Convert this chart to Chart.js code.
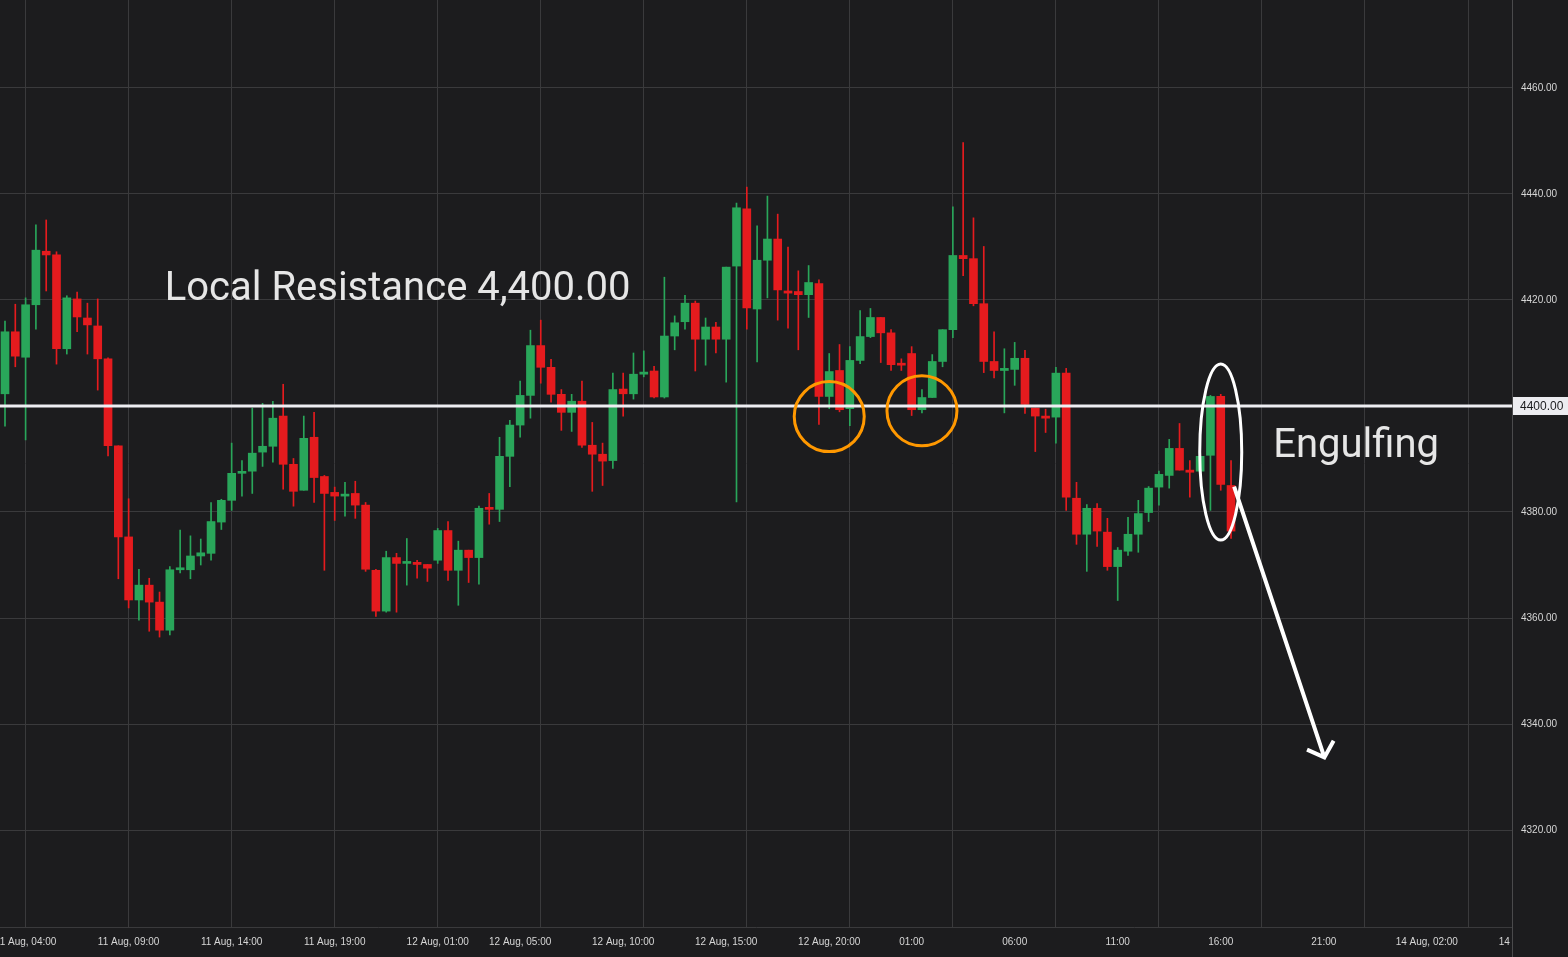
<!DOCTYPE html>
<html>
<head>
<meta charset="utf-8">
<script src="https://cdn.jsdelivr.net/npm/chart.js@4.4.1/dist/chart.umd.min.js"></script>
<style>
  html, body { margin: 0; padding: 0; background: #1c1c1e; overflow: hidden; }
  #wrap { width: 1568px; height: 957px; }
</style>
</head>
<body>
<div id="wrap"><canvas id="priceChart"></canvas></div>
<script>
// 30 min candles
const open = [
  4402.3, 4414.0, 4409.2, 4419.1, 4429.2, 4428.5, 4410.8, 4420.2, 4416.6, 4415.1,
  4408.9, 4392.5, 4375.3, 4363.4, 4366.2, 4363.0, 4357.7, 4369.1, 4369.1, 4371.7,
  4372.2, 4378.1, 4382.2, 4387.3, 4387.7, 4391.3, 4392.4, 4398.1, 4389.0, 4384.1,
  4394.1, 4386.7, 4383.7, 4383.0, 4383.5, 4381.3, 4369.0, 4361.3, 4371.4, 4370.3,
  4370.5, 4370.1, 4370.9, 4376.5, 4369.0, 4372.8, 4371.4, 4380.7, 4380.5, 4390.5,
  4396.4, 4402.0, 4411.4, 4407.3, 4402.2, 4398.8, 4400.9, 4392.6, 4390.9, 4389.7,
  4403.2, 4402.3, 4406.0, 4406.6, 4401.7, 4413.2, 4415.9, 4419.4, 4412.6, 4414.9,
  4412.6, 4426.4, 4437.2, 4418.3, 4427.5, 4431.5, 4421.7, 4421.6, 4421.0, 4423.1,
  4401.8, 4406.7, 4399.5, 4408.6, 4413.1, 4416.7, 4413.8, 4407.9, 4409.9, 4399.3,
  4401.6, 4408.4, 4414.4, 4428.4, 4427.8, 4419.3, 4408.4, 4406.7, 4406.9, 4409.0,
  4399.6, 4398.1, 4397.9, 4406.2, 4382.6, 4375.8, 4380.7, 4376.2, 4369.7, 4372.6,
  4375.8, 4379.9, 4384.7, 4386.9, 4392.0, 4387.9, 4387.7, 4390.7, 4401.8, 4385.0
];
const high = [
  4416.0, 4419.2, 4420.4, 4434.2, 4435.1, 4429.1, 4420.8, 4421.5, 4419.4, 4420.2,
  4409.1, 4392.5, 4382.5, 4369.2, 4367.5, 4364.9, 4369.7, 4376.6, 4375.5, 4374.9,
  4381.8, 4382.4, 4393.0, 4389.7, 4399.6, 4400.5, 4400.9, 4404.1, 4390.1, 4398.1,
  4398.8, 4386.9, 4384.7, 4385.6, 4385.8, 4381.8, 4369.2, 4372.6, 4372.2, 4375.0,
  4370.9, 4370.1, 4376.9, 4378.2, 4374.5, 4372.8, 4381.1, 4383.5, 4394.1, 4397.3,
  4404.7, 4414.3, 4416.2, 4408.8, 4403.1, 4402.2, 4404.7, 4396.9, 4393.0, 4406.2,
  4406.2, 4410.0, 4410.4, 4407.5, 4424.3, 4417.0, 4420.9, 4419.8, 4416.6, 4415.8,
  4426.2, 4438.3, 4441.3, 4434.0, 4439.6, 4436.2, 4430.0, 4425.5, 4426.5, 4423.8,
  4409.9, 4411.6, 4411.2, 4418.0, 4418.4, 4416.7, 4414.4, 4408.9, 4411.2, 4403.1,
  4409.7, 4414.4, 4437.6, 4449.7, 4435.5, 4430.1, 4414.0, 4410.8, 4412.0, 4410.5,
  4399.6, 4399.4, 4407.3, 4407.1, 4385.6, 4381.4, 4381.6, 4378.8, 4373.3, 4379.0,
  4382.2, 4384.8, 4387.7, 4393.7, 4396.7, 4389.7, 4391.0, 4402.0, 4402.2, 4389.7
];
const low = [
  4396.2, 4407.4, 4393.6, 4414.5, 4421.7, 4407.9, 4409.8, 4414.0, 4409.8, 4403.0,
  4390.6, 4367.4, 4361.9, 4359.6, 4357.5, 4356.4, 4356.8, 4368.5, 4367.4, 4370.0,
  4370.9, 4376.7, 4380.3, 4383.0, 4383.5, 4388.6, 4389.4, 4384.3, 4381.1, 4384.1,
  4381.8, 4369.0, 4378.4, 4379.2, 4378.8, 4368.8, 4360.3, 4361.1, 4361.1, 4366.2,
  4367.5, 4366.9, 4370.3, 4367.1, 4362.4, 4366.7, 4366.4, 4377.7, 4378.2, 4384.8,
  4394.1, 4397.7, 4404.3, 4400.7, 4395.4, 4395.2, 4392.2, 4383.9, 4385.0, 4388.2,
  4398.1, 4401.3, 4405.5, 4401.5, 4401.5, 4410.6, 4414.5, 4406.6, 4407.7, 4410.0,
  4404.5, 4381.9, 4414.5, 4408.3, 4420.4, 4416.2, 4414.7, 4410.6, 4416.7, 4396.5,
  4399.5, 4398.9, 4396.3, 4408.0, 4412.9, 4408.2, 4406.7, 4406.7, 4398.2, 4398.7,
  4401.6, 4407.4, 4412.9, 4424.6, 4418.9, 4406.3, 4405.3, 4398.7, 4403.9, 4398.6,
  4391.4, 4395.0, 4393.0, 4380.3, 4373.9, 4368.8, 4373.5, 4369.0, 4363.3, 4371.8,
  4372.4, 4378.2, 4381.3, 4384.5, 4387.9, 4382.8, 4387.0, 4380.3, 4384.1, 4375.0
];
const close = [
  4414.0, 4409.4, 4419.1, 4429.4, 4428.5, 4410.8, 4420.4, 4416.8, 4415.3, 4408.9,
  4392.5, 4375.3, 4363.4, 4366.2, 4363.0, 4357.7, 4369.1, 4369.2, 4371.7, 4372.3,
  4378.2, 4382.2, 4387.3, 4387.5, 4391.1, 4392.4, 4397.7, 4389.0, 4383.9, 4393.9,
  4386.5, 4383.5, 4383.0, 4383.2, 4381.3, 4369.2, 4361.3, 4371.4, 4370.3, 4370.6,
  4370.1, 4369.4, 4376.5, 4369.0, 4372.8, 4371.4, 4380.7, 4380.5, 4390.5, 4396.4,
  4402.0, 4411.4, 4407.3, 4402.2, 4398.8, 4400.9, 4392.6, 4390.9, 4389.6, 4403.1,
  4402.3, 4406.0, 4406.4, 4401.7, 4413.2, 4415.7, 4419.4, 4412.6, 4414.9, 4412.6,
  4426.2, 4437.4, 4418.5, 4427.5, 4431.5, 4421.9, 4421.3, 4421.0, 4423.3, 4401.8,
  4406.5, 4399.3, 4408.6, 4413.1, 4416.7, 4413.8, 4407.8, 4407.7, 4399.3, 4401.6,
  4408.4, 4414.4, 4428.4, 4427.8, 4419.3, 4408.4, 4406.7, 4407.1, 4409.0, 4400.3,
  4398.1, 4397.7, 4406.2, 4382.8, 4375.8, 4380.7, 4376.4, 4369.7, 4372.8, 4375.8,
  4379.7, 4384.5, 4387.1, 4392.0, 4387.9, 4387.5, 4390.5, 4401.8, 4385.2, 4376.4
];

// x axis: vertical grid every 10 candles, time labels sit on their own candles
const gridPos = [2, 12, 22, 32, 42, 52, 62, 72, 82, 92, 102, 112, 122, 132, 142];
const labelPos = [2, 12, 22, 32, 42, 50, 60, 70, 80, 88, 98, 108, 118, 128, 138, 148];
const xTickLabels = [
  '11 Aug, 04:00', '11 Aug, 09:00', '11 Aug, 14:00', '11 Aug, 19:00', '12 Aug, 01:00',
  '12 Aug, 05:00', '12 Aug, 10:00', '12 Aug, 15:00', '12 Aug, 20:00', '01:00',
  '06:00', '11:00', '16:00', '21:00', '14 Aug, 02:00', '14 Aug, 07:00'
];
const yTicks = [4320, 4340, 4360, 4380, 4400, 4420, 4440, 4460];
const resistance = 4400;

const BG = '#1c1c1e';
const GRID = '#3a3a3c';
const UP = '#29a65a';
const DOWN = '#e51b1e';

const candleColors = close.map((c, i) => c >= open[i] ? UP : DOWN);
const bodies = open.map((o, i) => ({ x: i, y: [o, close[i]] }));
const wicks = low.map((l, i) => ({ x: i, y: [l, high[i]] }));

// annotation spots, in candle index / price
const circles = [{ x: 80, y: 4398.0 }, { x: 89, y: 4399.1 }];
const ellipse = { x: 118, y: 4391.3 };
const arrow = { from: { x: 119.3, y: 4384.8 }, to: { x: 128.06, y: 4333.7 } };
const notes = [
  { text: 'Local Resistance 4,400.00', x: 15.5, y: 4420.0 },
  { text: 'Engulfing', x: 123.1, y: 4390.4 }
];

const overlay = {
  id: 'overlay',
  afterDatasetsDraw(chart) {
    const { ctx, chartArea, scales: { x, y } } = chart;
    ctx.save();

    // resistance line
    const ry = y.getPixelForValue(resistance);
    ctx.strokeStyle = '#eeeef2';
    ctx.lineWidth = 3;
    ctx.beginPath();
    ctx.moveTo(chartArea.left, ry);
    ctx.lineTo(chartArea.right, ry);
    ctx.stroke();

    // orange circles at the retests
    ctx.strokeStyle = '#ff9800';
    ctx.lineWidth = 3;
    circles.forEach(c => {
      ctx.beginPath();
      ctx.arc(x.getPixelForValue(c.x), y.getPixelForValue(c.y), 35, 0, Math.PI * 2);
      ctx.stroke();
    });

    // engulfing ellipse
    ctx.strokeStyle = '#ffffff';
    ctx.beginPath();
    ctx.ellipse(x.getPixelForValue(ellipse.x), y.getPixelForValue(ellipse.y), 21, 88, 0, 0, Math.PI * 2);
    ctx.stroke();

    // arrow down
    const x1 = x.getPixelForValue(arrow.from.x), y1 = y.getPixelForValue(arrow.from.y);
    const x2 = x.getPixelForValue(arrow.to.x), y2 = y.getPixelForValue(arrow.to.y);
    const ang = Math.atan2(y2 - y1, x2 - x1);
    ctx.lineWidth = 4;
    ctx.beginPath();
    ctx.moveTo(x1, y1);
    ctx.lineTo(x2, y2);
    ctx.moveTo(x2 - 19 * Math.cos(ang - 0.83), y2 - 19 * Math.sin(ang - 0.83));
    ctx.lineTo(x2, y2);
    ctx.lineTo(x2 - 19 * Math.cos(ang + 0.83), y2 - 19 * Math.sin(ang + 0.83));
    ctx.stroke();

    // labels
    ctx.fillStyle = '#e6e6e6';
    ctx.font = '40px Roboto';
    ctx.textBaseline = 'alphabetic';
    notes.forEach(n => {
      ctx.fillText(n.text, x.getPixelForValue(n.x), y.getPixelForValue(n.y));
    });
    ctx.restore();
  },
  afterDraw(chart) {
    const { ctx, chartArea, scales: { y } } = chart;
    ctx.save();
    // cut the last time label at the price axis
    ctx.fillStyle = BG;
    ctx.fillRect(chartArea.right + 1, chartArea.bottom + 1, chart.width, chart.height);
    ctx.strokeStyle = '#4a4a4c';
    ctx.lineWidth = 1;
    ctx.beginPath();
    ctx.moveTo(chartArea.right + 0.5, chartArea.bottom);
    ctx.lineTo(chartArea.right + 0.5, chart.height);
    ctx.stroke();

    // price tag for the resistance
    const ry = y.getPixelForValue(resistance);
    ctx.fillStyle = '#ececf0';
    ctx.fillRect(chartArea.right + 1, ry - 9, chart.width - chartArea.right, 18);
    ctx.fillStyle = '#1c1c1e';
    ctx.font = '12px "Liberation Sans"';
    ctx.textBaseline = 'middle';
    ctx.fillText(resistance.toFixed(2), chartArea.right + 8, ry + 1);
    ctx.restore();
  }
};

const ctx = document.getElementById('priceChart').getContext('2d');

new Chart(ctx, {
  type: 'bar',
  data: {
    datasets: [
      {
        label: 'body',
        data: bodies,
        backgroundColor: candleColors,
        barThickness: 8,
        minBarLength: 2,
        grouped: false
      },
      {
        label: 'wick',
        data: wicks,
        backgroundColor: candleColors,
        barThickness: 1,
        grouped: false
      }
    ]
  },
  options: {
    responsive: true,
    maintainAspectRatio: false,
    animation: false,
    layout: { padding: 0 },
    plugins: {
      legend: { display: false },
      tooltip: { enabled: false }
    },
    scales: {
      x: {
        type: 'linear',
        offset: false,
        min: -0.485,
        max: 146.27,
        afterBuildTicks: (axis) => {
          const vals = [...new Set(gridPos.concat(labelPos))].sort((a, b) => a - b);
          axis.ticks = vals.map(v => ({ value: v }));
        },
        afterFit: (axis) => {
          axis.height = 30;
          axis.paddingLeft = 0;
          axis.paddingRight = 0;
        },
        grid: {
          offset: false,
          color: (c) => (c.tick && gridPos.includes(c.tick.value)) ? GRID : 'rgba(0,0,0,0)',
          drawTicks: false
        },
        border: { display: true, color: GRID },
        ticks: {
          autoSkip: false,
          maxRotation: 0,
          padding: 9,
          color: '#d6d6d6',
          font: { family: 'Liberation Sans', size: 10 },
          callback: (v) => {
            const k = labelPos.indexOf(v);
            return k >= 0 ? xTickLabels[k] : '';
          }
        }
      },
      y: {
        position: 'right',
        min: 4301.7,
        max: 4476.6,
        afterBuildTicks: (axis) => {
          axis.ticks = yTicks.map(v => ({ value: v }));
        },
        afterFit: (axis) => {
          axis.width = 56;
          axis.paddingTop = 0;
          axis.paddingBottom = 0;
        },
        grid: { color: GRID, drawTicks: false },
        border: { display: true, color: '#4a4a4c' },
        ticks: {
          padding: 9,
          color: '#d6d6d6',
          font: { family: 'Liberation Sans', size: 10 },
          callback: (v) => Number(v).toFixed(2)
        }
      }
    }
  },
  plugins: [overlay]
});
</script>
</body>
</html>
